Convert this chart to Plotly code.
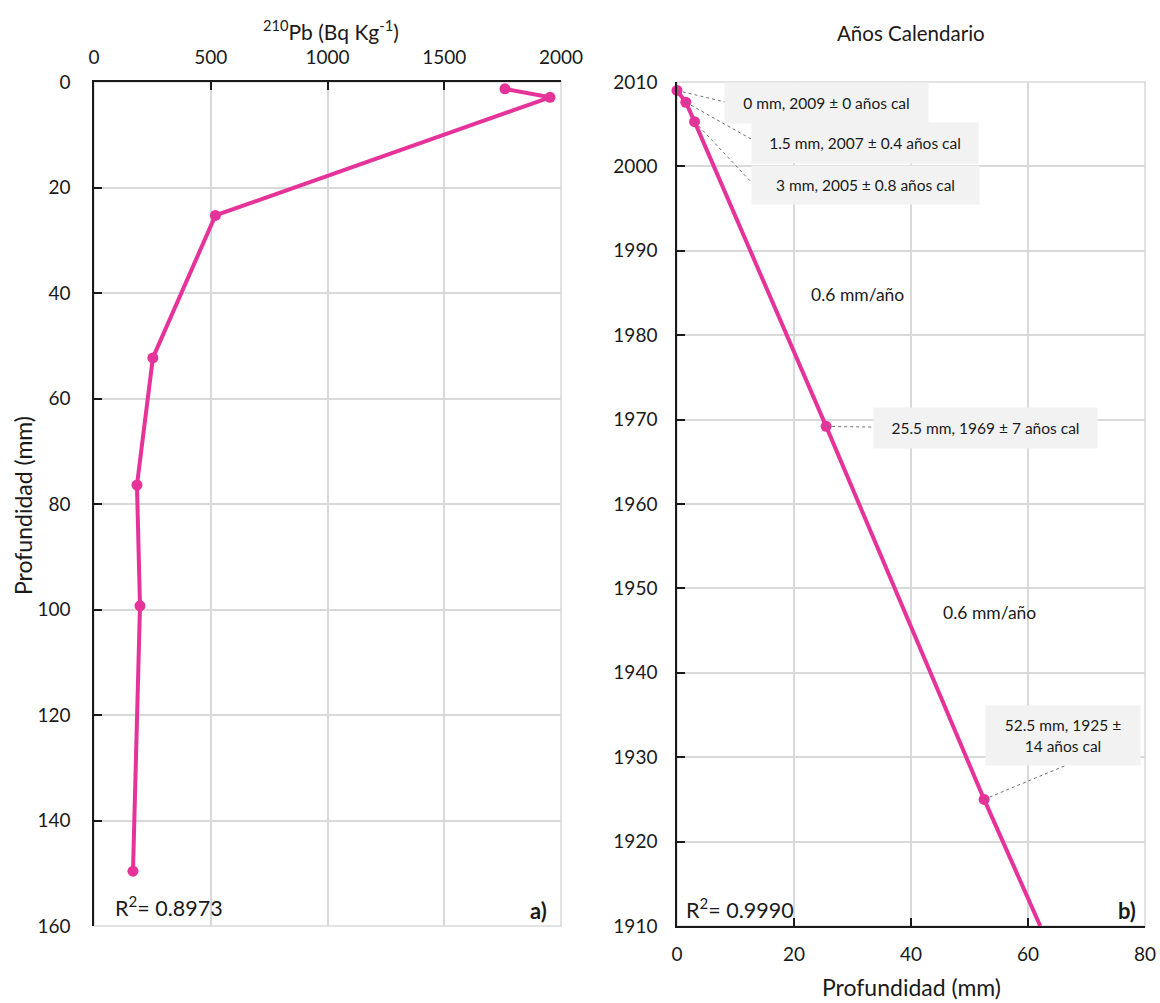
import plotly.graph_objects as go

# ---------------- data ----------------
# Panel a) 210Pb activity profile
pb_activity = [1760, 1953, 520, 252, 184, 197, 167]          # Bq Kg-1
pb_depth = [1.3, 2.9, 25.3, 52.3, 76.4, 99.3, 149.6]         # mm

# Panel b) age-depth model
age_depth = [0, 1.5, 3, 25.5, 52.5]                          # mm
age_year = [2009, 2007.6, 2005.3, 1969.2, 1925]              # años cal
model_depth = [0, 1.5, 3, 25.5, 52.5, 62.1]
model_year = [2009, 2007.6, 2005.3, 1969.2, 1925, 1910]

age_labels = [
    "0 mm, 2009 ± 0 años cal",
    "1.5 mm, 2007 ± 0.4 años cal",
    "3 mm, 2005 ± 0.8 años cal",
    "25.5 mm, 1969 ± 7 años cal",
    "52.5 mm, 1925 ±<br>14 años cal",
]
label_x = [25.5, 32.1, 32.2, 52.8, 66.0]
label_y = [2007.5, 2002.8, 1997.8, 1969.0, 1932.6]
label_w = [201, 224, 225, 221, 152]
label_h = [38, 38, 36, 38, 57]
leader_x = [8.4, 13.3, 13.3, 34.6, 66.7]
leader_y = [2007.6, 2003.0, 1997.7, 1969.1, 1929.1]

rate_text = ["0.6 mm/año", "0.6 mm/año"]
rate_x = [30.8, 53.4]
rate_y = [1984.8, 1947.1]

pb_ticks = [0, 500, 1000, 1500, 2000]
depth_ticks = [0, 20, 40, 60, 80, 100, 120, 140, 160]
year_ticks = list(range(1910, 2011, 10))
depth_b_ticks = [0, 20, 40, 60, 80]

# ---------------- style ----------------
W, H = 1160, 1003
PINK = "#E6339A"
FONT = "Lato"
TXT = "#1a1a1a"
GRID = "#d9d9d9"

def px(x):
    return x / W

def py(y):
    return 1 - y / H

dom_a = [px(94), px(561)]
dom_b = [px(677), px(1145)]
dom_y = [py(926), py(82)]

fig = go.Figure()

# panel a
fig.add_trace(go.Scatter(
    x=pb_activity, y=pb_depth, mode="lines+markers",
    line=dict(color=PINK, width=4), marker=dict(color=PINK, size=11),
    xaxis="x", yaxis="y", showlegend=False, cliponaxis=False))

# panel b
fig.add_trace(go.Scatter(
    x=model_depth, y=model_year, mode="lines",
    line=dict(color=PINK, width=4),
    xaxis="x2", yaxis="y2", showlegend=False))
fig.add_trace(go.Scatter(
    x=age_depth, y=age_year, mode="markers",
    marker=dict(color=PINK, size=11),
    xaxis="x2", yaxis="y2", showlegend=False, cliponaxis=False))

tickfont = dict(family=FONT, size=19, color=TXT)
common = dict(showgrid=True, gridcolor=GRID, gridwidth=1.5,
              showline=True, linecolor="#1a1a1a", linewidth=1.5,
              ticks="inside", ticklen=8, tickwidth=1.5, tickcolor="#1a1a1a",
              tickfont=tickfont, zeroline=False, automargin=False)

fig.update_layout(
    width=W, height=H,
    margin=dict(l=0, r=0, t=0, b=0),
    paper_bgcolor="white", plot_bgcolor="white",
    font=dict(family=FONT, color=TXT),
    xaxis=dict(domain=dom_a, anchor="y", side="top", range=[0, 2000],
               tickvals=pb_ticks, ticklabelstandoff=9, **common),
    yaxis=dict(domain=dom_y, anchor="x", range=[160, 0],
               tickvals=depth_ticks, ticklabelstandoff=18, **common),
    xaxis2=dict(domain=dom_b, anchor="y2", range=[0, 80],
                tickvals=depth_b_ticks, ticklabelstandoff=10, **common),
    yaxis2=dict(domain=dom_y, anchor="x2", range=[1910, 2010],
                tickvals=year_ticks, ticklabelstandoff=14, **common),
)

shapes = []
# light grey frames
for dom in (dom_a, dom_b):
    shapes.append(dict(type="rect", xref="paper", yref="paper",
                       x0=dom[0], x1=dom[1], y0=dom_y[0], y1=dom_y[1],
                       line=dict(color=GRID, width=1.5), layer="below"))
# dotted leaders
for i in range(len(age_depth)):
    shapes.append(dict(type="line", xref="x2", yref="y2",
                       x0=age_depth[i], y0=age_year[i], x1=leader_x[i], y1=leader_y[i],
                       line=dict(color="#6f6f6f", width=1, dash="dot"), layer="above"))
fig.update_layout(shapes=shapes)

def note(x, y, text, size, xanchor="center", yanchor="middle", angle=0):
    return dict(xref="paper", yref="paper", x=px(x), y=py(y), text=text,
                xanchor=xanchor, yanchor=yanchor, textangle=angle, showarrow=False,
                font=dict(family=FONT, size=size, color=TXT))

ann = [
    note(331, 30, "<sup>210</sup>Pb (Bq Kg<sup>-1</sup>)", 21),
    note(23, 506, "Profundidad (mm)", 23, angle=-90),
    note(911, 987, "Profundidad (mm)", 23),
    note(911, 33, "Años Calendario", 20.5),
    note(113, 906, "R<sup>2</sup>= 0.8973", 21.5, xanchor="left"),
    note(549, 910, "<b>a)</b>", 22, xanchor="right"),
    note(684, 908, "R<sup>2</sup>= 0.9990", 21.5, xanchor="left"),
    note(1138, 910, "<b>b)</b>", 22, xanchor="right"),
]
# age labels
for i, t in enumerate(age_labels):
    ann.append(dict(xref="x2", yref="y2", x=label_x[i], y=label_y[i], text=t,
                    xanchor="center", yanchor="middle",
                    showarrow=False, bgcolor="#f2f2f2", width=label_w[i], height=label_h[i],
                    align="center", valign="middle",
                    font=dict(family=FONT, size=15.5, color=TXT)))
for i, t in enumerate(rate_text):
    ann.append(dict(xref="x2", yref="y2", x=rate_x[i], y=rate_y[i], text=t,
                    xanchor="center", yanchor="middle",
                    showarrow=False, font=dict(family=FONT, size=17.5, color=TXT)))
fig.update_layout(annotations=ann)

fig.write_html("out.html", config={"displayModeBar": False},
               post_script="document.body.style.margin='0';")
